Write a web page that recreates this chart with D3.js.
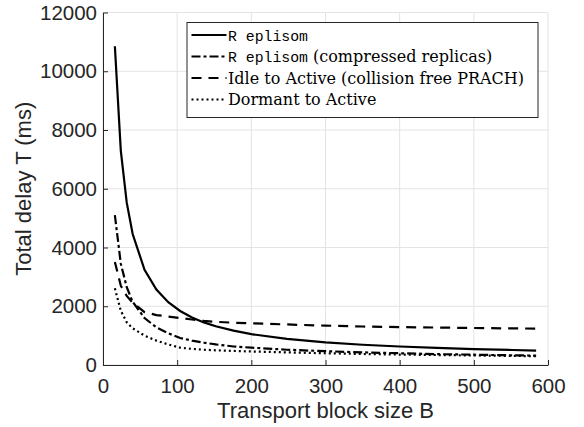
<!DOCTYPE html>
<html>
<head>
<meta charset="utf-8">
<script src="https://cdn.jsdelivr.net/npm/d3@7"></script>
<style>
  body { margin: 0; background: #fff; }
  .tick text { font-family: "Liberation Sans", Arial, sans-serif; font-size: 20.5px; fill: #262626; }
</style>
</head>
<body>
<svg width="584" height="427"></svg>
<script>
const svg = d3.select('svg');

// transport block sizes (x)
const blockSizes = [16, 24, 32, 40, 56, 72, 88, 104, 120, 136, 152, 176, 200, 248, 300, 350, 400, 450, 500, 552, 584];
// total delay in ms
const replisom     = [10850, 7300, 5525, 4460, 3240, 2570, 2140, 1840, 1620, 1450, 1320, 1170, 1050, 890, 770, 690, 630, 580, 540, 510, 490];
const replisomComp = [5100, 3450, 2650, 2150, 1600, 1280, 1080, 920, 830, 760, 700, 630, 590, 520, 470, 430, 400, 370, 350, 330, 320];
const idleActive   = [3510, 2700, 2350, 2120, 1800, 1700, 1650, 1600, 1550, 1500, 1470, 1440, 1420, 1380, 1340, 1310, 1290, 1275, 1260, 1245, 1240];
const dormActive   = [2610, 1850, 1450, 1250, 1000, 830, 700, 590, 550, 520, 500, 480, 460, 430, 400, 375, 355, 340, 325, 310, 300];

const xTicks = [0, 100, 200, 300, 400, 500, 600];
const yTicks = [0, 2000, 4000, 6000, 8000, 10000, 12000];

const seriesNames = ['R eplisom', 'R eplisom', 'Idle to Active (collision free PRACH)', 'Dormant to Active'];

var margin = {top: 12.5, right: 36, bottom: 62, left: 103};
const width = +svg.attr('width');
const height = +svg.attr('height');

var xScale = d3.scaleLinear().domain([0, 600]).range([margin.left, width - margin.right]);
var yScale = d3.scaleLinear().domain([0, 12000]).range([height - margin.bottom, margin.top]);

// grid
svg.append('g').selectAll('line').data(xTicks).enter().append('line')
    .attr('x1', d => xScale(d)).attr('x2', d => xScale(d))
    .attr('y1', yScale(0)).attr('y2', yScale(12000))
    .style('stroke', '#e3e3e3').style('stroke-width', 1);
svg.append('g').selectAll('line').data(yTicks).enter().append('line')
    .attr('x1', xScale(0)).attr('x2', xScale(600))
    .attr('y1', d => yScale(d)).attr('y2', d => yScale(d))
    .style('stroke', '#e3e3e3').style('stroke-width', 1);

// axes
var xAxis = svg.append('g')
    .attr('transform', `translate(0,${yScale(0)})`)
    .call(d3.axisBottom(xScale).tickValues(xTicks).tickFormat(d3.format('d'))
        .tickSize(-5).tickPadding(13).tickSizeOuter(0));
var yAxis = svg.append('g')
    .attr('transform', `translate(${xScale(0)},0)`)
    .call(d3.axisLeft(yScale).tickValues(yTicks).tickFormat(d3.format('d'))
        .tickSize(-5).tickPadding(6).tickSizeOuter(0));
[xAxis, yAxis].forEach(a => {
    a.select('.domain').style('stroke', '#262626');
    a.selectAll('.tick line').style('stroke', '#262626');
});

svg.append('text')
    .attr('text-anchor', 'middle')
    .attr('x', xScale(300))
    .attr('y', 418)
    .style('font-family', '"Liberation Sans", Arial, sans-serif')
    .style('font-size', '22px')
    .style('fill', '#262626')
    .text('Transport block size B');

svg.append('text')
    .attr('text-anchor', 'middle')
    .attr('transform', `translate(31,${yScale(6000)}) rotate(-90)`)
    .style('font-family', '"Liberation Sans", Arial, sans-serif')
    .style('font-size', '22px')
    .style('fill', '#262626')
    .text('Total delay T (ms)');

// lines
const dashes = [null, '9,3,3,3', '10,7', '2,3'];
const allSeries = [replisom, replisomComp, idleActive, dormActive];

var line = d3.line()
    .x((d, i) => xScale(blockSizes[i]))
    .y(d => yScale(d));

allSeries.forEach(function (s, k) {
    svg.append('path')
        .datum(s)
        .attr('d', line)
        .style('fill', 'none')
        .style('stroke', 'black')
        .style('stroke-width', 2.2)
        .style('stroke-dasharray', dashes[k]);
});

// legend
var lg = svg.append('g').attr('transform', 'translate(187,22.5)');
lg.append('rect')
    .attr('width', 351).attr('height', 95)
    .style('fill', 'white').style('stroke', '#262626').style('stroke-width', 1);

seriesNames.forEach(function (name, k) {
    var yy = 12.5 + k * 21.5;
    lg.append('line')
        .attr('x1', 4.5).attr('x2', 39.5)
        .attr('y1', yy).attr('y2', yy)
        .style('stroke', 'black').style('stroke-width', 2.2)
        .style('stroke-dasharray', dashes[k]);
    var t = lg.append('text')
        .attr('x', 41).attr('y', yy + 5.5)
        .style('font-size', '16px')
        .style('fill', 'black');
    if (k < 2) {
        t.append('tspan')
            .style('font-family', '"Liberation Mono", "DejaVu Sans Mono", monospace')
            .style('font-size', '14.8px')
            .text(name);
        if (k === 1) {
            t.append('tspan')
                .style('font-family', '"DejaVu Serif", "Liberation Serif", serif')
                .text(' (compressed replicas)');
        }
    } else {
        t.style('font-family', '"DejaVu Serif", "Liberation Serif", serif').text(name);
    }
});
</script>
</body>
</html>
